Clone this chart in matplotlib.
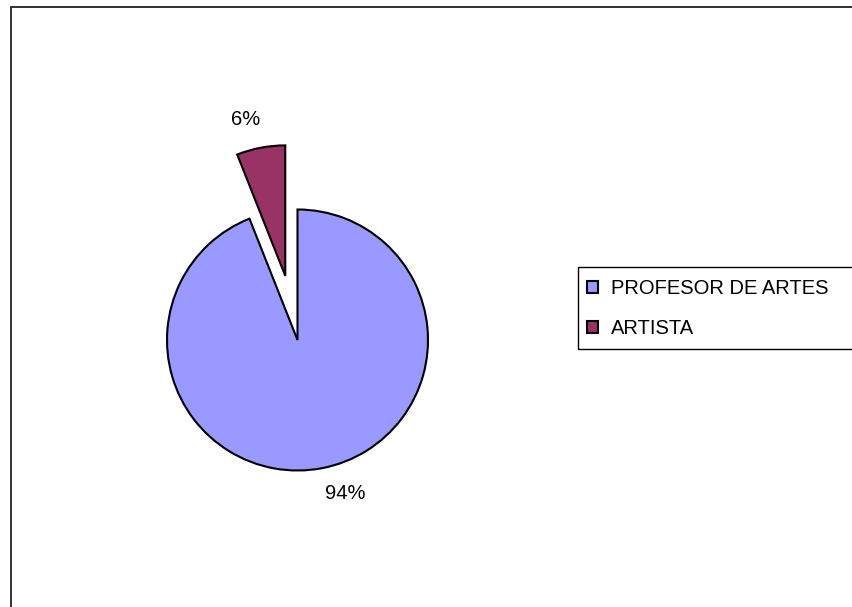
import matplotlib
matplotlib.use("Agg")
import matplotlib.pyplot as plt
import numpy as np
from matplotlib.patches import Rectangle

labels = ["PROFESOR DE ARTES", "ARTISTA"]
values = [94, 6]
colors = ["#9999FF", "#993366"]
explode = [0, 0.5]

plt.rcParams["font.family"] = ["Liberation Sans", "DejaVu Sans"]

W, H = 853, 607
fig = plt.figure(figsize=(W / 100, H / 100), dpi=100)

# pie placed so centre is at (297.5, 340) px, radius 130.5 px
cx, cy, r = 297.5, 340, 130.5
ax = fig.add_axes([0, 0, 1, 1])
wedges, texts = ax.pie(values, colors=colors, explode=explode, startangle=90,
                       counterclock=False, labels=[f"{v}%" for v in values],
                       labeldistance=1.235,
                       wedgeprops=dict(edgecolor="black", linewidth=1.5),
                       textprops=dict(fontsize=14.5, color="black"))

# nudge label angles a little, the way the original places them
nudge = [6.5, 3.5]
for w, t, d in zip(wedges, texts, nudge):
    t.set_ha("center")
    t.set_va("center")
    ox, oy = w.center
    x, y = t.get_position()
    a = np.deg2rad(d)
    dx, dy = x - ox, y - oy
    t.set_position((ox + dx * np.cos(a) - dy * np.sin(a),
                    oy + dx * np.sin(a) + dy * np.cos(a)))

ax.set_xlim(-cx / r, (W - cx) / r)
ax.set_ylim(-(H - cy) / r, cy / r)
ax.axis("off")

# outer chart border (runs off right and bottom)
fig.patches.append(Rectangle((11 / W, -0.05), 1.1, 1 - 7 / H + 0.05,
                             transform=fig.transFigure, fill=False,
                             edgecolor="#222222", linewidth=1.3))

# legend box
fig.patches.append(Rectangle((578 / W, 1 - 349 / H), 0.5, 82 / H,
                             transform=fig.transFigure, fill=False,
                             edgecolor="black", linewidth=1.0))
leg = fig.legend(wedges, labels, loc="center left",
                 bbox_to_anchor=(587 / W, 1 - 308.5 / H),
                 frameon=False, fontsize=14.5, handlelength=0.55,
                 handleheight=0.55, handletextpad=0.65, labelspacing=1.05,
                 borderpad=0, borderaxespad=0)

fig.savefig("out.png", dpi=100)
